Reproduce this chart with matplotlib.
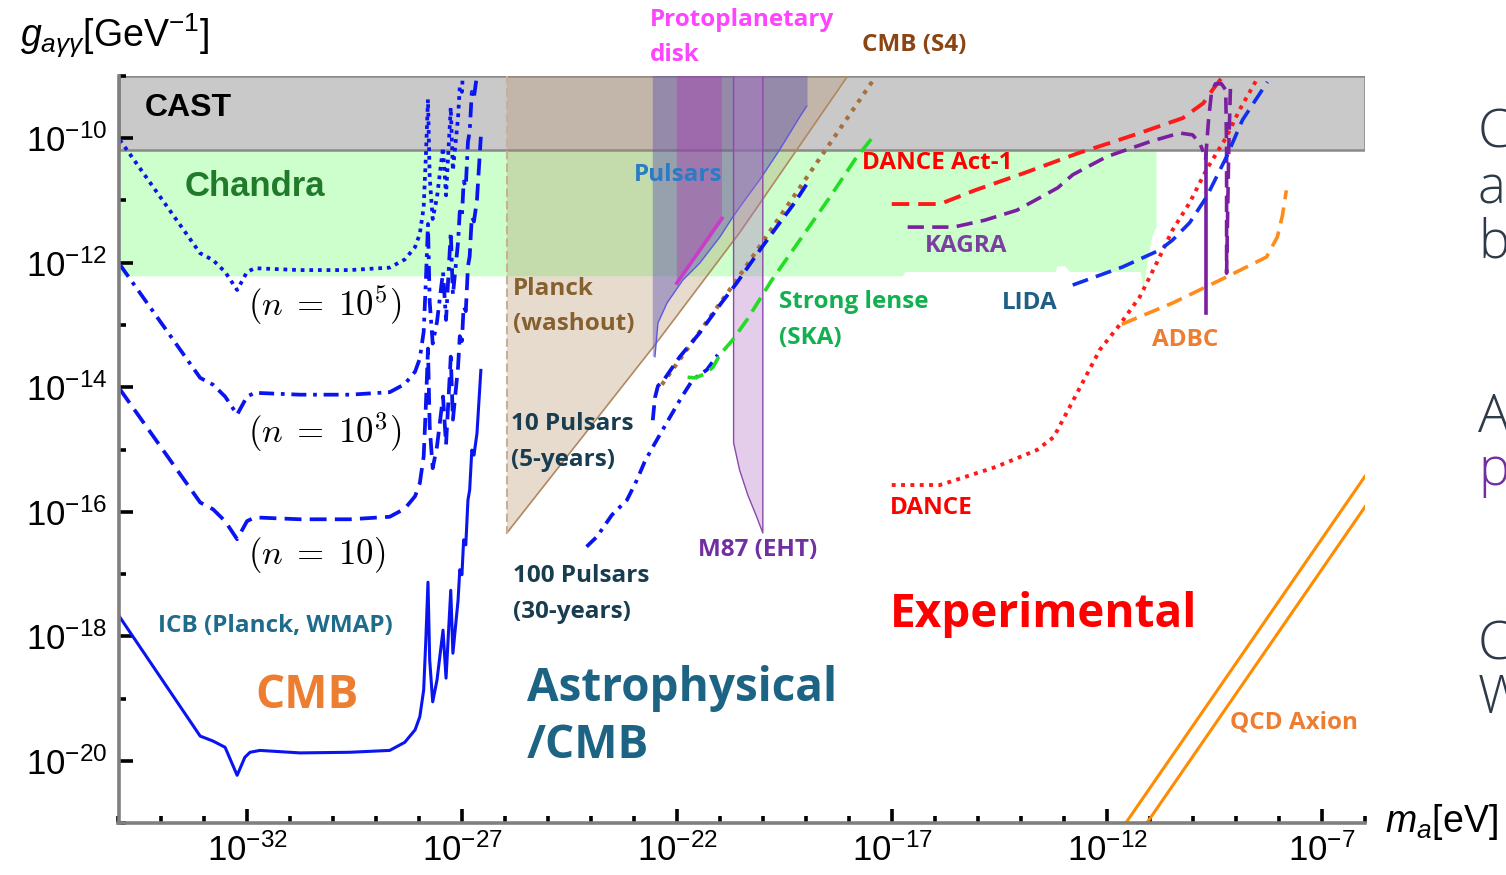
import numpy as np
import matplotlib
matplotlib.use("Agg")
import matplotlib.pyplot as plt
from matplotlib.ticker import FixedLocator, FuncFormatter, NullFormatter

plt.rcParams['font.family'] = ['Liberation Sans', 'DejaVu Sans']
plt.rcParams['mathtext.fontset'] = 'custom'
plt.rcParams['mathtext.rm'] = 'Liberation Sans'
plt.rcParams['mathtext.it'] = 'Liberation Sans:italic'
plt.rcParams['mathtext.bf'] = 'Liberation Sans:bold'

# ---------------- data (log10 of m_a [eV] and g [GeV^-1]) ----------------
cast_band = [-10.19, -9.0]

chandra_x = [-35.0, -10.85, -10.85, -10.94, -11.06, -11.15, -11.22, -12.87, -12.97,
             -13.15, -13.20, -16.69, -16.76, -35.0]
chandra_y = [-10.19, -10.19, -11.43, -11.56, -11.99, -12.44, -12.15, -12.15, -12.06,
             -12.06, -12.15, -12.15, -12.22, -12.22]

planck_x = [-25.965, -18.03, -20.55, -22.52, -25.965]
planck_y = [-9.0, -9.0, -11.52, -13.32, -16.34]

pulsar_edge_x = [-18.99, -19.15, -19.62, -20.08, -20.38, -20.71, -21.01, -21.48,
                 -21.87, -22.24, -22.45, -22.52]
pulsar_edge_y = [-9.49, -9.66, -10.19, -10.67, -10.95, -11.27, -11.59, -12.01,
                 -12.28, -12.65, -12.97, -13.51]
pulsar_left_x = -22.57
pulsar_right_x = -18.97

ppd_x = [-22.01, -20.96]
ppd_low_y = [-12.33, -11.29]

m87_x = [-20.69, -20.69, -20.55, -20.36, -20.17, -20.01, -20.01]
m87_y = [-9.0, -14.89, -15.33, -15.73, -16.05, -16.34, -9.0]

cmbs4_x = [-22.36, -20.62, -17.41]
cmbs4_y = [-13.96, -12.28, -9.04]

p10_x = [-22.57, -22.52, -22.45, -22.31, -21.94, -21.48, -21.01, -20.62, -20.08,
         -19.69, -19.27, -18.97]
p10_y = [-14.53, -14.17, -13.98, -13.88, -13.51, -13.13, -12.68, -12.33, -11.80,
         -11.43, -11.04, -10.72]

p100_x = [-24.11, -23.87, -23.52, -23.17, -22.94, -22.76, -22.57, -22.17, -21.90,
          -21.64, -21.31, -21.06]
p100_y = [-16.56, -16.40, -16.05, -15.81, -15.49, -15.20, -14.96, -14.48, -14.16,
          -13.88, -13.72, -13.48]

ska_x = [-21.76, -21.59, -21.36, -21.17, -21.01, -20.71, -20.38, -19.80, -19.15,
         -18.45, -17.87, -17.41]
ska_y = [-13.84, -13.85, -13.79, -13.68, -13.48, -13.24, -12.92, -12.28, -11.64,
         -10.95, -10.35, -9.95]

act1_x = [-17.01, -15.89, -15.08, -13.92, -12.66, -11.94, -11.24, -10.24, -9.76,
          -9.55, -9.34]
act1_y = [-11.06, -11.06, -10.84, -10.56, -10.24, -10.08, -9.92, -9.68, -9.44,
          -9.23, -9.04]

dance_x = [-17.01, -15.89, -15.66, -14.59, -13.64, -13.24, -12.75, -12.17, -11.71,
           -11.24, -10.85, -10.48, -10.08, -9.69, -9.22, -8.92, -8.50]
dance_y = [-15.57, -15.57, -15.52, -15.28, -15.01, -14.80, -14.16, -13.40, -13.00,
           -12.55, -12.01, -11.48, -11.04, -10.51, -9.98, -9.55, -9.04]

kagra_x = [-16.64, -15.57, -14.85, -14.10, -13.57, -13.15, -12.80, -12.01, -11.01,
           -10.31, -10.01, -9.85, -9.76]
kagra_y = [-11.43, -11.43, -11.32, -11.16, -10.96, -10.80, -10.59, -10.30, -10.06,
           -9.92, -9.95, -10.08, -10.22]
kagra_dip_x = [-9.71, -9.71]
kagra_dip_y = [-10.25, -12.81]
kagra_res_x = [-9.71, -9.64, -9.57, -9.48, -9.34, -9.24, -9.22, -9.22, -9.17, -9.13, -9.06]
kagra_res_y = [-10.35, -9.71, -9.26, -9.13, -9.13, -9.23, -10.19, -12.17, -10.19, -9.18, -9.23]

lida_x = [-12.80, -11.64, -10.78, -10.48, -10.08, -9.69, -9.22, -8.85, -8.27]
lida_y = [-12.36, -12.07, -11.80, -11.64, -11.36, -10.95, -10.30, -9.71, -9.10]

adbc_x = [-11.66, -10.48, -9.22, -8.29, -8.04, -7.92, -7.83]
adbc_y = [-12.99, -12.65, -12.23, -11.91, -11.59, -11.24, -10.84]

qcd_upper_x = [-11.57, -6.0]
qcd_upper_y = [-21.0, -15.43]
qcd_lower_x = [-11.08, -6.0]
qcd_lower_y = [-21.0, -15.92]

# CMB birefringence-type projections (common mass grid)
proj_x = [-34.97, -33.10, -32.80, -32.52, -32.24, -32.01, -31.83, -30.78, -29.62,
          -28.69, -28.34, -28.10, -27.99, -27.90, -27.85, -27.80, -27.76, -27.69,
          -27.59, -27.45, -27.38, -27.27, -27.22, -27.10, -27.06, -27.01, -26.97,
          -26.92, -26.87, -26.83, -26.78, -26.73, -26.66, -26.57]
n1e5_y = [-10.03, -11.85, -11.96, -12.15, -12.44, -12.15, -12.09, -12.12, -12.12,
          -12.08, -11.95, -11.75, -11.54, -11.11, -10.31, -9.38, -10.63, -11.30,
          -10.95, -10.15, -10.92, -9.51, -10.52, -9.67, -9.18, -9.26, -8.70, -8.78,
          -8.06, -7.90, -7.26, -7.34, -6.99, -5.98]
n1e3_y = [-12.03, -13.85, -13.96, -14.15, -14.44, -14.15, -14.09, -14.12, -14.12,
          -14.08, -13.95, -13.75, -13.54, -13.11, -12.31, -11.38, -12.63, -13.30,
          -12.95, -12.15, -12.92, -11.51, -12.52, -11.67, -11.18, -11.26, -10.70,
          -10.78, -10.06, -9.90, -9.26, -9.34, -8.99, -7.98]
n10_y = [-14.03, -15.85, -15.96, -16.15, -16.44, -16.15, -16.09, -16.12, -16.12,
         -16.08, -15.95, -15.75, -15.54, -15.11, -14.31, -13.38, -14.63, -15.30,
         -14.95, -14.15, -14.92, -13.51, -14.52, -13.67, -13.18, -13.26, -12.70,
         -12.78, -12.06, -11.90, -11.26, -11.34, -10.99, -9.98]

icb_x = [-34.97, -33.10, -32.80, -32.52, -32.24, -32.06, -31.94, -31.71, -30.78,
         -29.62, -28.69, -28.34, -28.10, -27.99, -27.90, -27.85, -27.80, -27.76,
         -27.69, -27.59, -27.45, -27.38, -27.27, -27.22, -27.10, -27.06, -27.01,
         -26.97, -26.92, -26.87, -26.83, -26.78, -26.73, -26.66, -26.57]
icb_y = [-17.69, -19.60, -19.68, -19.78, -20.23, -19.94, -19.86, -19.83, -19.87,
         -19.86, -19.83, -19.70, -19.50, -19.29, -18.86, -18.06, -17.13, -18.38,
         -19.05, -18.70, -17.90, -18.67, -17.26, -18.27, -17.42, -16.93, -17.01,
         -16.45, -16.53, -15.81, -15.65, -15.01, -15.09, -14.74, -13.73]

x_major = [-32, -27, -22, -17, -12, -7]
y_major = [-20, -18, -16, -14, -12, -10]

# ---------------- figure ----------------
W, H = 1506, 875
fig = plt.figure(figsize=(W / 100, H / 100), dpi=100)
ax = fig.add_axes([118.5 / W, 1 - 823.3 / H, (1365 - 118.5) / W, (823.3 - 75.7) / H])
ax.set_xscale('log')
ax.set_yscale('log')
ax.set_xlim(1e-35, 1e-6)
ax.set_ylim(1e-21, 1e-9)


def p(v):
    return 10.0 ** np.asarray(v, dtype=float)


# bands
ax.fill(p(chandra_x), p(chandra_y), color='#ccffcc', lw=0, zorder=1)
ax.axhspan(p(cast_band[0]), p(cast_band[1]), facecolor='#c9c9c9',
           edgecolor='#8a8a8a', lw=1.8, zorder=1.5)

ax.fill(p(planck_x), p(planck_y), color='#b28a5f', alpha=0.3, lw=0, zorder=2)
ax.plot(p(planck_x[1:]), p(planck_y[1:]), color='#b08860', lw=1.2, zorder=2.1)
ax.plot(p([planck_x[0], planck_x[-1]]), p([planck_y[0], planck_y[-1]]),
        color='#c8b096', lw=1.5, ls=(0, (4, 2)), zorder=2.1)

pul_x = [pulsar_left_x, pulsar_right_x, pulsar_right_x] + pulsar_edge_x + [pulsar_left_x]
pul_y = [-9.0, -9.0, pulsar_edge_y[0]] + pulsar_edge_y + [pulsar_edge_y[-1]]
ax.fill(p(pul_x), p(pul_y), color='#5a4fb0', alpha=0.42, lw=0, zorder=3)
ax.plot(p(pulsar_edge_x), p(pulsar_edge_y), color='#5a5ae0', lw=1.0, zorder=3.1)

ppd_px = [ppd_x[0], ppd_x[1], ppd_x[1], ppd_x[0]]
ppd_py = [-9.0, -9.0, ppd_low_y[1], ppd_low_y[0]]
ax.fill(p(ppd_px), p(ppd_py), color='#b030b0', alpha=0.35, lw=0, zorder=3.2)
ax.plot(p(ppd_x), p(ppd_low_y), color='#c83cc8', lw=2.6, zorder=3.3)

ax.fill(p(m87_x), p(m87_y), color='#b070c8', alpha=0.35, lw=0, zorder=3.2)
ax.plot(p(m87_x), p(m87_y), color='#8a4aa8', lw=1.0, zorder=3.3)

# projections / sensitivities
blue = '#0a14f0'
ax.plot(p(proj_x), p(n1e5_y), color=blue, lw=2.7, ls=(0, (1, 1.3)), zorder=5)
ax.plot(p(proj_x), p(n1e3_y), color=blue, lw=2.7, ls=(0, (4, 1.8, 1, 1.8)), zorder=5)
ax.plot(p(proj_x), p(n10_y), color=blue, lw=2.7, ls=(0, (4.5, 2.2)), zorder=5)
ax.plot(p(icb_x), p(icb_y), color=blue, lw=2.2, zorder=5)

ax.plot(p(cmbs4_x), p(cmbs4_y), color='#a8703c', lw=3.0, ls=(0, (1, 1.5)), zorder=5)
ax.plot(p(p10_x), p(p10_y), color=blue, lw=2.7, ls=(0, (4, 2)), zorder=5.1)
ax.plot(p(p100_x), p(p100_y), color=blue, lw=2.7, ls=(0, (3.5, 1.8, 1, 1.8)), zorder=5)
ax.plot(p(ska_x), p(ska_y), color='#22dd22', lw=2.6, ls=(0, (4.5, 2.2)), zorder=5)

ax.plot(p(act1_x), p(act1_y), color='#ff1a1a', lw=2.8, ls=(0, (4.5, 2.3)), zorder=5)
ax.plot(p(dance_x), p(dance_y), color='#ff1a1a', lw=2.8, ls=(0, (1, 1.4)), zorder=5)
ax.plot(p(kagra_x), p(kagra_y), color='#7a1fa0', lw=2.6, ls=(0, (4.5, 2.3)), zorder=5)
ax.plot(p(kagra_dip_x), p(kagra_dip_y), color='#7a1fa0', lw=2.6, zorder=5)
ax.plot(p(kagra_res_x), p(kagra_res_y), color='#7a1fa0', lw=2.6, ls=(0, (4.5, 2.3)), zorder=5)
ax.plot(p(lida_x), p(lida_y), color='#1030ee', lw=2.6, ls=(0, (4.5, 2.3)), zorder=5)
ax.plot(p(adbc_x), p(adbc_y), color='#ff8c1a', lw=2.6, ls=(0, (4.5, 2.3)), zorder=5)

ax.plot(p(qcd_upper_x), p(qcd_upper_y), color='#ff8c00', lw=2.2, zorder=5)
ax.plot(p(qcd_lower_x), p(qcd_lower_y), color='#ff8c00', lw=2.2, zorder=5)

# axes styling
for s in ('top', 'right'):
    ax.spines[s].set_visible(False)
for s in ('left', 'bottom'):
    ax.spines[s].set_color('#808080')
    ax.spines[s].set_linewidth(2.6)
    ax.spines[s].set_zorder(6)

ax.xaxis.set_major_locator(FixedLocator(p(x_major)))
ax.xaxis.set_minor_locator(FixedLocator(p([k for k in range(-35, -5) if k not in x_major])))
ax.yaxis.set_major_locator(FixedLocator(p(y_major)))
ax.yaxis.set_minor_locator(FixedLocator(p([k for k in range(-21, -8) if k not in y_major])))
fmt = FuncFormatter(lambda v, pos: r"$10^{%d}$" % int(round(np.log10(v))))
ax.xaxis.set_major_formatter(fmt)
ax.yaxis.set_major_formatter(fmt)
ax.xaxis.set_minor_formatter(NullFormatter())
ax.yaxis.set_minor_formatter(NullFormatter())
ax.tick_params(which='major', direction='in', length=10, width=2.6, color='black',
               labelsize=25, zorder=7)
ax.tick_params(which='minor', direction='in', length=5, width=2.6, color='black')
ax.tick_params(axis='x', which='major', pad=7)
ax.tick_params(axis='y', which='major', pad=8)
ax.set_facecolor('white')


def ftext(px, py, s, **kw):
    kw.setdefault('ha', 'left')
    kw.setdefault('va', 'center')
    fig.text(px / W, 1 - py / H, s, **kw)


fig.text(20 / W, 1 - 36 / H, r"$g_{a\gamma\gamma}$[GeV$^{-1}$]", fontsize=27,
         ha='left', va='center')
fig.text(1385 / W, 1 - 822 / H, r"$m_a$[eV]", fontsize=27, ha='left', va='center')

LBL = dict(family=['Open Sans', 'DejaVu Sans'], weight='bold', fontsize=17.5)
BIG = dict(family=['Open Sans', 'DejaVu Sans'], weight='bold', fontsize=33)

ftext(145, 108, "CAST", family=['Liberation Sans'], weight='bold', fontsize=23, color='black')
ftext(185, 187, "Chandra", family=['Liberation Sans'], weight='bold', fontsize=25, color='#217a2a')
ftext(650, 20, "Protoplanetary", color='#ff44ff', **LBL)
ftext(650, 55, "disk", color='#ff44ff', **LBL)
ftext(862, 45, "CMB (S4)", color='#8b4513', **LBL)
ftext(634, 175, "Pulsars", color='#2a7cc4', **LBL)
ftext(862, 163, "DANCE Act-1", color='#ff0000', **LBL)
ftext(925, 246, "KAGRA", color='#7b3fa0', **LBL)
ftext(513, 289, "Planck", color='#86602f', **LBL)
ftext(513, 324, "(washout)", color='#86602f', **LBL)
ftext(779, 302, "Strong lense", color='#13b050', **LBL)
ftext(779, 338, "(SKA)", color='#13b050', **LBL)
ftext(1002, 303, "LIDA", color='#1f5f86', **LBL)
ftext(1152, 340, "ADBC", color='#ed7d31', **LBL)
ftext(511, 424, "10 Pulsars", color='#183d50', **LBL)
ftext(511, 460, "(5-years)", color='#183d50', **LBL)
ftext(890, 508, "DANCE", color='#ff0000', **LBL)
ftext(698, 550, "M87 (EHT)", color='#7030a0', **LBL)
ftext(513, 576, "100 Pulsars", color='#183d50', **LBL)
ftext(513, 612, "(30-years)", color='#183d50', **LBL)
ftext(158, 626, "ICB (Planck, WMAP)", color='#1e6b8c', **LBL)
ftext(1230, 722, "QCD Axion", color='#ed7d31', **LBL)

ftext(890, 615, "Experimental", color='#ff0000', **BIG)
ftext(255, 695, "CMB", color='#ed7d31', **BIG)
ftext(527, 688, "Astrophysical", color='#1d6384', **BIG)
ftext(527, 745, "/CMB", color='#1d6384', **BIG)

ftext(248, 305, r"$(n\;=\;10^5)$", math_fontfamily='cm', fontsize=25, color='black')
ftext(248, 432, r"$(n\;=\;10^3)$", math_fontfamily='cm', fontsize=25, color='black')
ftext(248, 555, r"$(n\;=\;10)$", math_fontfamily='cm', fontsize=25, color='black')

# slide text continuing past the right edge
SIDE = dict(family=['Open Sans', 'DejaVu Sans'], weight='light', fontsize=38,
            va='baseline')
for py, ch, col in [(148, "C", '#2d3a4a'), (203, "a", '#2d3a4a'), (257, "b", '#2d3a4a'),
                    (432, "A", '#2d3a4a'), (485, "p", '#7030a0'),
                    (660, "C", '#2d3a4a'), (713, "W", '#2d3a4a')]:
    ftext(1478, py, ch, color=col, **SIDE)

fig.savefig("out.png", dpi=100, facecolor='white')
